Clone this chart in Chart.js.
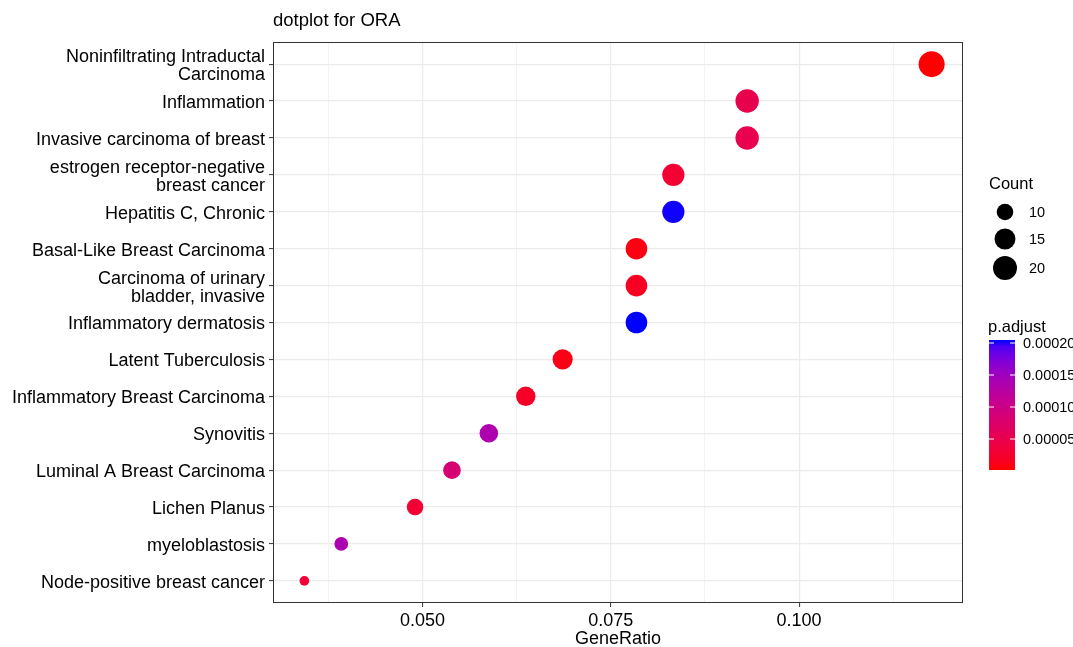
<!DOCTYPE html>
<html>
<head>
<meta charset="utf-8">
<script src="https://cdn.jsdelivr.net/npm/chart.js@4.4.0/dist/chart.umd.min.js"></script>
<style>
  html, body { margin: 0; padding: 0; background: #ffffff; }
  #wrap { width: 1073px; height: 647px; position: relative; }
</style>
</head>
<body>
<div id="wrap"><canvas id="c" width="1073" height="647"></canvas></div>
<script>
// ---------- data ----------
const categories = [
  ["Noninfiltrating Intraductal", "Carcinoma"],
  "Inflammation",
  "Invasive carcinoma of breast",
  ["estrogen receptor-negative", "breast cancer"],
  "Hepatitis C, Chronic",
  "Basal-Like Breast Carcinoma",
  ["Carcinoma of urinary", "bladder, invasive"],
  "Inflammatory dermatosis",
  "Latent Tuberculosis",
  "Inflammatory Breast Carcinoma",
  "Synovitis",
  "Luminal A Breast Carcinoma",
  "Lichen Planus",
  "myeloblastosis",
  "Node-positive breast cancer"
];
const geneRatio = [0.1176, 0.0931, 0.0931, 0.0833, 0.0833, 0.0784, 0.0784, 0.0784, 0.0686, 0.0637, 0.0588, 0.0539, 0.0490, 0.0392, 0.0343];
const counts    = [24, 19, 19, 17, 17, 16, 16, 16, 14, 13, 12, 11, 10, 8, 7];
const pAdjust   = [0.0000016, 0.000050, 0.000051, 0.000030, 0.000204, 0.0000075, 0.000018, 0.0002047, 0.0000098, 0.000020, 0.000136, 0.000083, 0.000030, 0.000138, 0.000030];
const xTicks      = [0.0375, 0.05, 0.0625, 0.075, 0.0875, 0.1, 0.1125];
const xMajorTicks = [0.05, 0.075, 0.1];
const countLegend = [10, 15, 20];
const pTicks      = [0.00005, 0.00010, 0.00015, 0.00020];
const pTickLabels = ["0.00005", "0.00010", "0.00015", "0.00020"];

// ---------- helpers ----------
const FONT = "'Liberation Sans', Arial, Helvetica, sans-serif";
const cMin = Math.min(...counts), cMax = Math.max(...counts);
function radiusFor(c) {
  const size = 3 + 5 * Math.sqrt((c - cMin) / (cMax - cMin));
  return size * 1.625;
}
const pMin = Math.min(...pAdjust), pMax = Math.max(...pAdjust);

function srgbToLin(v) { v /= 255; return v <= 0.04045 ? v / 12.92 : Math.pow((v + 0.055) / 1.055, 2.4); }
function linToSrgb(v) { v = Math.max(0, Math.min(1, v)); return v <= 0.0031308 ? 12.92 * v : 1.055 * Math.pow(v, 1 / 2.4) - 0.055; }
const WX = 0.95047, WY = 1.0, WZ = 1.08883;
function rgbToLab(r, g, b) {
  const R = srgbToLin(r), G = srgbToLin(g), B = srgbToLin(b);
  const X = (0.4124 * R + 0.3576 * G + 0.1805 * B) / WX;
  const Y = (0.2126 * R + 0.7152 * G + 0.0722 * B) / WY;
  const Z = (0.0193 * R + 0.1192 * G + 0.9505 * B) / WZ;
  const f = t => t > 0.008856 ? Math.cbrt(t) : 7.787 * t + 16 / 116;
  const fx = f(X), fy = f(Y), fz = f(Z);
  return [116 * fy - 16, 500 * (fx - fy), 200 * (fy - fz)];
}
function labToRgb(L, a, b) {
  const fy = (L + 16) / 116, fx = fy + a / 500, fz = fy - b / 200;
  const finv = t => t * t * t > 0.008856 ? t * t * t : (t - 16 / 116) / 7.787;
  const X = finv(fx) * WX, Y = finv(fy) * WY, Z = finv(fz) * WZ;
  const R = 3.2406 * X - 1.5372 * Y - 0.4986 * Z;
  const G = -0.9689 * X + 1.8758 * Y + 0.0415 * Z;
  const B = 0.0557 * X - 0.2040 * Y + 1.0570 * Z;
  return [R, G, B].map(v => Math.round(linToSrgb(v) * 255));
}
const LAB_LOW = rgbToLab(255, 0, 0), LAB_HIGH = rgbToLab(0, 0, 255);
function colorFor(p) {
  const t = Math.max(0, Math.min(1, (p - pMin) / (pMax - pMin)));
  const L = LAB_LOW[0] + (LAB_HIGH[0] - LAB_LOW[0]) * t;
  const a = LAB_LOW[1] + (LAB_HIGH[1] - LAB_LOW[1]) * t;
  const b = LAB_LOW[2] + (LAB_HIGH[2] - LAB_LOW[2]) * t;
  const [R, G, B] = labToRgb(L, a, b);
  return `rgb(${R},${G},${B})`;
}

// x range with ggplot-like 5% expansion
const gMin = Math.min(...geneRatio), gMax = Math.max(...geneRatio);
const xLo = gMin - 0.05 * (gMax - gMin), xHi = gMax + 0.05 * (gMax - gMin);

const points = categories.map((c, i) => ({ x: geneRatio[i], y: i + 1, count: counts[i], p: pAdjust[i] }));

// ---------- plugins ----------
const decor = {
  id: 'decor',
  afterDatasetsDraw(chart) {
    const ctx = chart.ctx, ca = chart.chartArea;
    ctx.save();
    ctx.strokeStyle = '#333333';
    ctx.lineWidth = 1;
    ctx.strokeRect(Math.round(ca.left) + 0.5, Math.round(ca.top) + 0.5, Math.round(ca.right - ca.left) - 1, Math.round(ca.bottom - ca.top) - 1);
    ctx.restore();
  },
  afterDraw(chart) {
    const ctx = chart.ctx, ca = chart.chartArea;
    ctx.save();
    ctx.fillStyle = '#000000';
    ctx.textBaseline = 'middle';
    ctx.textAlign = 'left';
    // title
    ctx.font = `18.5px ${FONT}`;
    ctx.fillText('dotplot for ORA', ca.left, 21);

    // Count legend
    ctx.font = `16.5px ${FONT}`;
    ctx.fillText('Count', 989, 184);
    const ys = [212, 239, 268];
    countLegend.forEach((c, i) => {
      ctx.beginPath();
      ctx.arc(1005, ys[i], radiusFor(c), 0, Math.PI * 2);
      ctx.fillStyle = '#000000';
      ctx.fill();
      ctx.font = `14.5px ${FONT}`;
      ctx.fillText(String(c), 1029, ys[i] + 1);
    });

    // p.adjust colorbar
    ctx.font = `16.5px ${FONT}`;
    ctx.fillText('p.adjust', 988, 327);
    const bx = 989, bw = 26, bTop = 340, bBot = 470;
    const grad = ctx.createLinearGradient(0, bBot, 0, bTop);
    for (let k = 0; k <= 20; k++) {
      const p = pMin + (pMax - pMin) * k / 20;
      grad.addColorStop(k / 20, colorFor(p));
    }
    ctx.fillStyle = grad;
    ctx.fillRect(bx, bTop, bw, bBot - bTop);
    ctx.strokeStyle = '#ffffff';
    ctx.lineWidth = 1;
    ctx.font = `14.5px ${FONT}`;
    pTicks.forEach((v, i) => {
      const y = bBot - (v - pMin) / (pMax - pMin) * (bBot - bTop);
      ctx.beginPath();
      ctx.moveTo(bx, y); ctx.lineTo(bx + 5, y);
      ctx.moveTo(bx + bw - 5, y); ctx.lineTo(bx + bw, y);
      ctx.stroke();
      ctx.fillStyle = '#000000';
      ctx.fillText(pTickLabels[i], 1023, y + 1);
    });
    ctx.restore();
  }
};

// ---------- chart ----------
new Chart(document.getElementById('c'), {
  type: 'scatter',
  data: {
    datasets: [{
      data: points,
      pointRadius: ctx => radiusFor(ctx.raw ? ctx.raw.count : cMin),
      pointHoverRadius: ctx => radiusFor(ctx.raw ? ctx.raw.count : cMin),
      pointBackgroundColor: ctx => colorFor(ctx.raw ? ctx.raw.p : pMin),
      pointBorderWidth: 0,
      pointBorderColor: 'rgba(0,0,0,0)'
    }]
  },
  options: {
    responsive: false,
    animation: false,
    devicePixelRatio: 1,
    layout: { padding: { top: 42, right: 110, left: 0, bottom: 0 } },
    plugins: { legend: { display: false }, tooltip: { enabled: false }, title: { display: false } },
    scales: {
      x: {
        type: 'linear',
        min: xLo, max: xHi,
        afterBuildTicks: s => { s.ticks = xTicks.map(v => ({ value: v })); },
        afterFit: s => { s.height = 44; },
        border: { display: false },
        grid: {
          color: '#EBEBEB',
          lineWidth: c => (c.tick && xMajorTicks.includes(c.tick.value)) ? 1.2 : 0.6,
          tickColor: c => (c.tick && xMajorTicks.includes(c.tick.value)) ? '#333333' : 'rgba(0,0,0,0)',
          tickLength: 4,
          tickWidth: 1
        },
        ticks: {
          autoSkip: false,
          maxRotation: 0,
          padding: 5,
          color: '#000000',
          font: { family: FONT, size: 18, lineHeight: 1.0 },
          callback: v => xMajorTicks.includes(v) ? v.toFixed(3) : ''
        },
        title: {
          display: true,
          text: 'GeneRatio',
          color: '#000000',
          font: { family: FONT, size: 18, lineHeight: 1.0 },
          padding: { top: 0, bottom: -1 }
        }
      },
      y: {
        type: 'linear',
        reverse: true,
        min: 0.4, max: categories.length + 0.6,
        afterBuildTicks: s => { s.ticks = categories.map((c, i) => ({ value: i + 1 })); },
        afterFit: s => { s.width = 273; },
        border: { display: false },
        grid: {
          color: '#EBEBEB',
          lineWidth: 1.2,
          tickColor: '#333333',
          tickLength: 4,
          tickWidth: 1
        },
        ticks: {
          autoSkip: false,
          padding: 4,
          labelOffset: 2,
          color: '#000000',
          font: { family: FONT, size: 18, lineHeight: 1.0 },
          callback: v => categories[Math.round(v) - 1]
        }
      }
    }
  },
  plugins: [decor]
});
</script>
</body>
</html>
